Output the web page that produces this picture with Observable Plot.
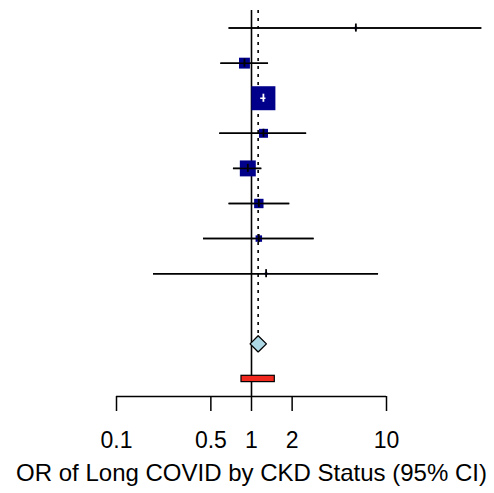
<!DOCTYPE html>
<html>
<head>
<meta charset="utf-8">
<script src="https://cdn.jsdelivr.net/npm/d3@7"></script>
<script src="https://cdn.jsdelivr.net/npm/@observablehq/plot@0.6"></script>
<style>
  html, body { margin: 0; padding: 0; background: #fff; }
  svg { font-family: "Liberation Sans", Arial, sans-serif; }
</style>
</head>
<body>
<div id="chart"></div>
<script>
// Study-level odds ratios (row 1 at the top)
const rows     = [1, 2, 3, 4, 5, 6, 7, 8];
const estimate = [5.93, 0.887, 1.225, 1.227, 0.939, 1.133, 1.133, 1.283];
const lower    = [0.682, 0.593, 1.17, 0.582, 0.735, 0.682, 0.441, 0.188];
const upper    = [50.8, 1.337, 1.28, 2.56, 1.192, 1.92, 2.91, 8.73];
const weight   = [0.6, 10.2, 49.5, 6.9, 21.9, 7.6, 3.6, 0.6];

// Pooled random-effects estimate and prediction interval
const pooledRow = 10;
const pooledEst = 1.12, pooledLo = 0.976, pooledHi = 1.29;
const predRow = 11;
const predLo = 0.843, predHi = 1.488;

const tickValues = [0.1, 0.5, 1, 2, 10];
const xTitle = "OR of Long COVID by CKD Status (95% CI)";

const W = 494, H = 493;
const mL = 116, mR = 108, mT = 10, mB = 97;
const maxBox = 24;                       // side of the largest square, px
const rMax = maxBox / Math.sqrt(Math.PI); // Plot square symbol: area = π r²
const maxW = d3.max(weight);

// Mirror of the x scale, used to decide whether a CI fits inside its square
const xPix = d3.scaleLog([0.1, 10], [mL, W - mR]);

const studies = rows.map((row, i) => {
  const side = Math.sqrt(weight[i] / maxW) * maxBox;
  return {
    row, est: estimate[i], lo: lower[i], hi: upper[i], w: weight[i],
    inside: xPix(upper[i]) - xPix(lower[i]) < side
  };
});

const tickHalf = 0.115;   // half-height of the estimate tick, in row units
const diaHalf = 0.23;     // half-height of the pooled diamond
const barHalf = 0.09;     // half-height of the prediction bar

const diamond = [
  {x: pooledLo, y: pooledRow},
  {x: pooledEst, y: pooledRow - diaHalf},
  {x: pooledHi, y: pooledRow},
  {x: pooledEst, y: pooledRow + diaHalf},
  {x: pooledLo, y: pooledRow}
];

const chart = Plot.plot({
  width: W, height: H,
  marginLeft: mL, marginRight: mR, marginTop: mT, marginBottom: mB,
  style: {fontFamily: "'Liberation Sans', Arial, sans-serif", background: "#fff"},
  x: {type: "log", domain: [0.1, 10], axis: null},
  y: {type: "linear", domain: [11.5, 0.5], axis: null},
  r: {type: "sqrt", domain: [0, maxW], range: [0, rMax]},
  marks: [
    // reference line at OR = 1 and dotted line at the pooled estimate
    Plot.ruleX([1], {y1: 0.5, y2: 11.5, stroke: "#000", strokeWidth: 1.6}),
    Plot.ruleX([pooledEst], {y1: 0.5, y2: pooledRow - diaHalf, stroke: "#000",
      strokeWidth: 1.6, strokeDasharray: "3,5"}),
    // confidence intervals behind the squares
    Plot.ruleY(studies, {y: "row", x1: "lo", x2: "hi", stroke: "#000", strokeWidth: 1.5}),
    // weighted squares
    Plot.dot(studies, {x: "est", y: "row", r: "w", symbol: "square", fill: "#00008B", stroke: "none"}),
    // CI and point tick redrawn on top (white when the CI lies within the square)
    Plot.ruleY(studies, {y: "row", x1: "lo", x2: "hi",
      stroke: d => d.inside ? "#fff" : "#000", strokeWidth: 1.5}),
    Plot.ruleX(studies, {x: "est", y1: d => d.row - tickHalf, y2: d => d.row + tickHalf,
      stroke: d => d.inside ? "#fff" : "#000", strokeWidth: 1.8}),
    // pooled estimate diamond
    Plot.line(diamond, {x: "x", y: "y", fill: "#ADD8E6", stroke: "#000", strokeWidth: 1.3}),
    // prediction interval bar
    Plot.rect([{lo: predLo, hi: predHi}], {x1: "lo", x2: "hi",
      y1: predRow - barHalf, y2: predRow + barHalf, fill: "#F0281E", stroke: "#000", strokeWidth: 1.2}),
    // x axis
    Plot.ruleY([11.5], {x1: 0.1, x2: 10, stroke: "#000", strokeWidth: 1.5}),
    Plot.axisX({ticks: tickValues, tickSize: 15, tickPadding: 20, fontSize: 23,
      tickFormat: d => String(d), strokeWidth: 1.5, label: null, color: "#000"}),
    Plot.text([xTitle], {frameAnchor: "bottom", dy: 77, lineAnchor: "middle",
      fontSize: 24, fill: "#000"})
  ]
});

document.getElementById("chart").appendChild(chart);
</script>
</body>
</html>
